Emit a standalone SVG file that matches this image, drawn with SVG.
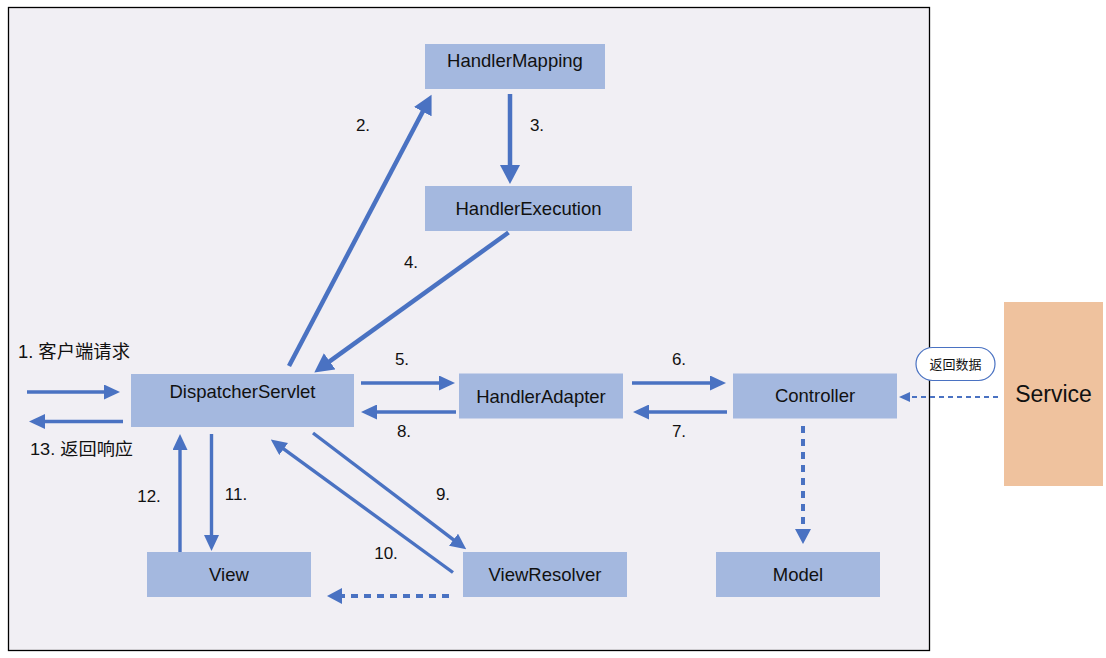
<svg xmlns="http://www.w3.org/2000/svg" width="1106" height="658" viewBox="0 0 1106 658">
<style>
.node{fill:#a4b8df;}
.nt{font-family:"Liberation Sans",Arial,sans-serif;font-size:18.5px;fill:#111;text-anchor:middle;}
.lb{font-family:"Liberation Sans",Arial,sans-serif;font-size:17px;fill:#111;text-anchor:middle;}
.cj{font-family:"Liberation Sans","Noto Sans CJK SC",sans-serif;fill:#111;}
.ln{stroke:#4a72c2;fill:none;stroke-width:3.4;}
.lnb{stroke:#4a72c2;fill:none;stroke-width:4.5;}
.dash{stroke:#4a72c2;fill:none;stroke-width:4;stroke-dasharray:7 6;}
.dashs{stroke:#4a72c2;fill:none;stroke-width:2;stroke-dasharray:5 4;}
</style>
<defs>
<marker id="a" markerUnits="userSpaceOnUse" markerWidth="16" markerHeight="15" refX="1" refY="7.5" orient="auto"><path d="M0,0 L16,7.5 L0,15 z" fill="#4a72c2"/></marker>
<marker id="b" markerUnits="userSpaceOnUse" markerWidth="20" markerHeight="20" refX="1" refY="10" orient="auto"><path d="M0,0 L19,10 L0,20 z" fill="#4a72c2"/></marker>
<marker id="c" markerUnits="userSpaceOnUse" markerWidth="15" markerHeight="16" refX="1" refY="8" orient="auto"><path d="M0,0 L15,8 L0,16 z" fill="#4a72c2"/></marker>
<marker id="d" markerUnits="userSpaceOnUse" markerWidth="11" markerHeight="10" refX="1" refY="5" orient="auto"><path d="M0,0 L11,5 L0,10 z" fill="#4a72c2"/></marker>
</defs>
<rect x="8.5" y="7.5" width="921" height="643" fill="#f1eff4" stroke="#000" stroke-width="1.3"/>

<g id="connectors">
<path class="ln" d="M27,392 L105,392" marker-end="url(#a)"/>
<path class="ln" d="M123,421.5 L44,421.5" marker-end="url(#a)"/>
<path class="lnb" d="M289,366 L423.2,110.8" marker-end="url(#b)"/>
<path class="lnb" d="M510,94 L510,166" marker-end="url(#b)"/>
<path class="lnb" d="M508.5,232.5 L328.9,361.9" marker-end="url(#b)"/>
<path class="ln" d="M361,383 L440,383" marker-end="url(#a)"/>
<path class="ln" d="M456,412 L376,412" marker-end="url(#a)"/>
<path class="ln" d="M632,383 L711,383" marker-end="url(#a)"/>
<path class="ln" d="M727,412 L648,412" marker-end="url(#a)"/>
<path class="ln" d="M180,552 L180,449" marker-end="url(#a)"/>
<path class="ln" d="M211.5,434 L211.5,536" marker-end="url(#a)"/>
<path class="ln" d="M313,433 L454.3,540.3" marker-end="url(#a)"/>
<path class="ln" d="M453,572.5 L282.9,448.4" marker-end="url(#a)"/>
<path class="dash" d="M449,596 L341,596" marker-end="url(#c)"/>
<path class="dash" d="M803,426 L803,530" marker-end="url(#c)"/>
<path class="dashs" d="M998,397 L909,397" marker-end="url(#d)"/>
<text class="cj" x="18" y="358" font-size="18" textLength="112" lengthAdjust="spacingAndGlyphs">1. 客户端请求</text>
<text class="cj" x="30" y="455" font-size="17" textLength="103" lengthAdjust="spacingAndGlyphs">13. 返回响应</text>
<text class="lb" x="363" y="131">2.</text>
<text class="lb" x="537" y="131">3.</text>
<text class="lb" x="411" y="268">4.</text>
<text class="lb" x="402" y="365">5.</text>
<text class="lb" x="679" y="365">6.</text>
<text class="lb" x="679" y="437">7.</text>
<text class="lb" x="404" y="437">8.</text>
<text class="lb" x="443" y="500">9.</text>
<text class="lb" x="386" y="559">10.</text>
<text class="lb" x="236" y="500">11.</text>
<text class="lb" x="149" y="502">12.</text>
<rect x="916" y="347.5" width="79" height="33" rx="16.5" fill="#fff" stroke="#4a72c2" stroke-width="1.2"/>
<text class="cj" x="955.5" y="369" font-size="13" text-anchor="middle">返回数据</text>
</g>

<g id="HandlerMapping"><rect class="node" x="425" y="44" width="180" height="45"/><text class="nt" x="515" y="67">HandlerMapping</text></g>
<g id="HandlerExecution"><rect class="node" x="425" y="186" width="207" height="45"/><text class="nt" x="528.5" y="215">HandlerExecution</text></g>
<g id="DispatcherServlet"><rect class="node" x="131" y="374" width="223" height="53"/><text class="nt" x="242.5" y="398">DispatcherServlet</text></g>
<g id="HandlerAdapter"><rect class="node" x="459" y="373.5" width="164" height="45"/><text class="nt" x="541" y="402.5">HandlerAdapter</text></g>
<g id="Controller"><rect class="node" x="733" y="373.5" width="164" height="45"/><text class="nt" x="815" y="402">Controller</text></g>
<g id="Model"><rect class="node" x="716" y="552" width="164" height="45"/><text class="nt" x="798" y="581">Model</text></g>
<g id="ViewResolver"><rect class="node" x="463" y="552" width="164" height="45"/><text class="nt" x="545" y="581">ViewResolver</text></g>
<g id="View"><rect class="node" x="147" y="552" width="164" height="45"/><text class="nt" x="229" y="581">View</text></g>
<g id="Service"><rect x="1004" y="302" width="99" height="184" fill="#efc29e"/><text x="1053.5" y="402" font-family="'Liberation Sans',Arial,sans-serif" font-size="23" fill="#111" text-anchor="middle">Service</text></g>
</svg>
